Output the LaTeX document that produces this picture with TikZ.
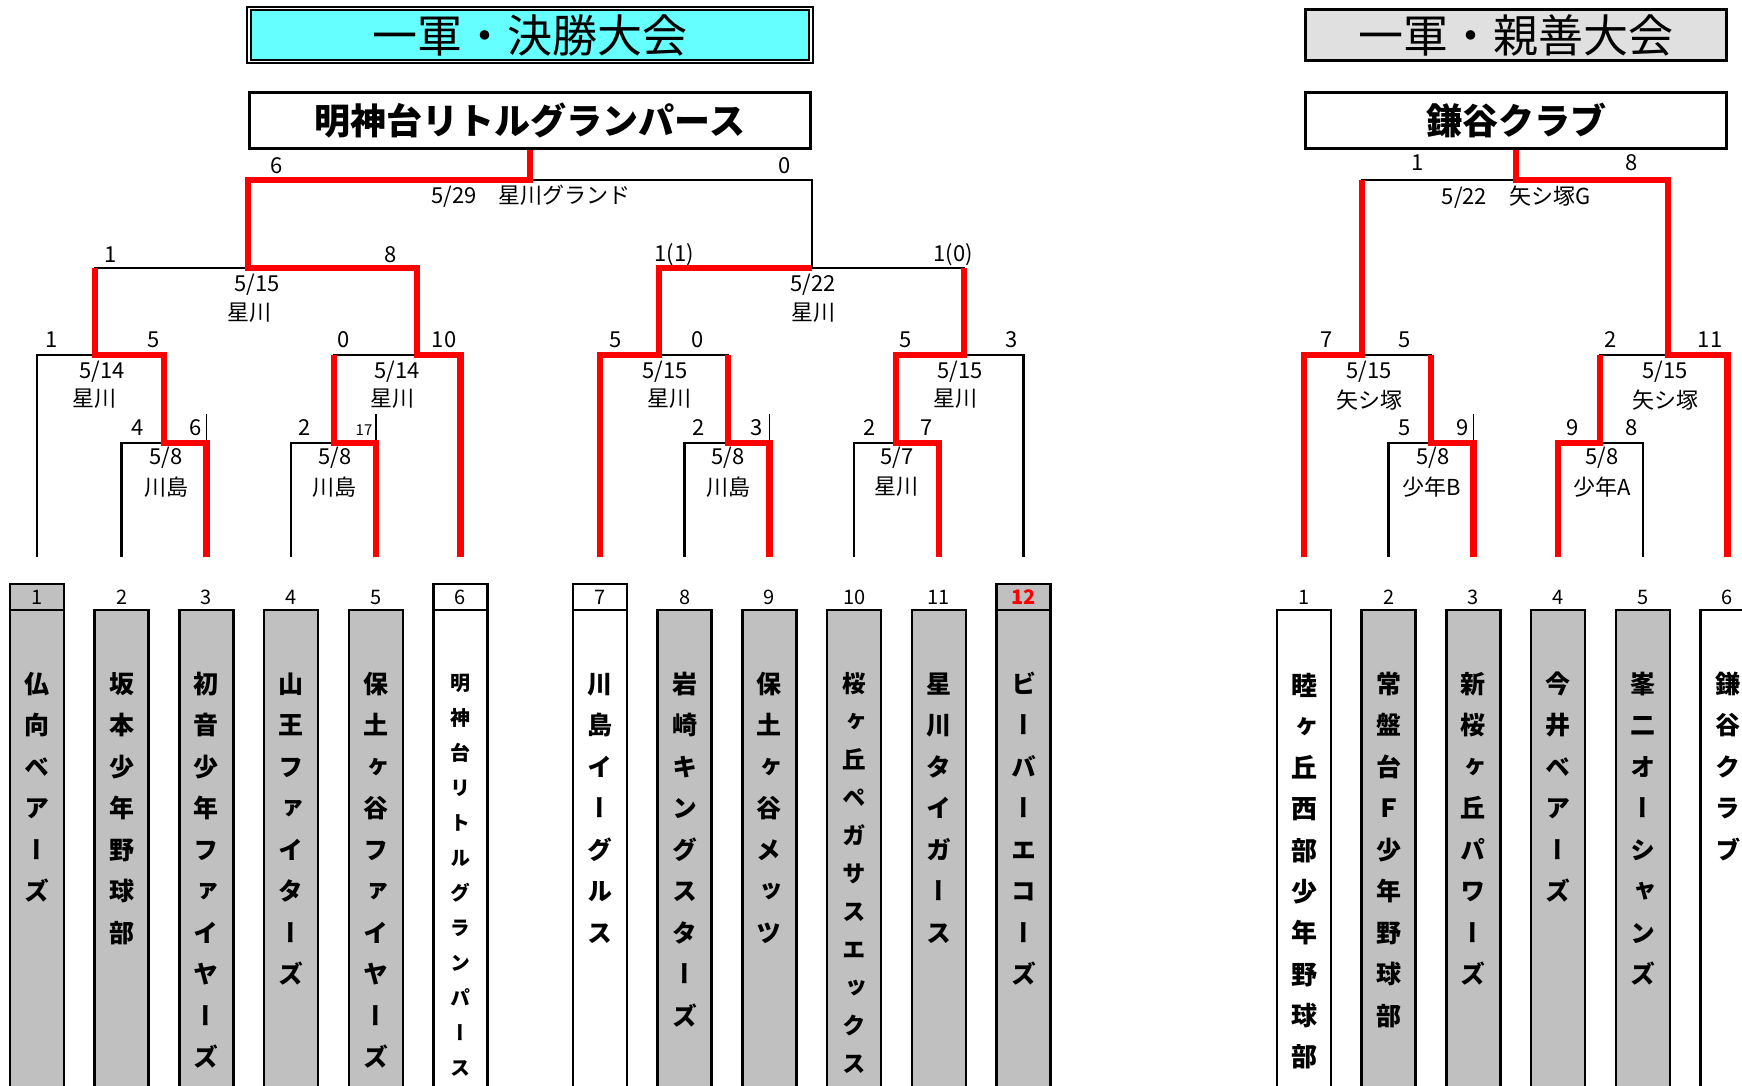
\documentclass[tikz,border=0pt]{standalone}
\usepackage{fontspec}
\setmainfont{Noto Sans CJK JP}
\newfontfamily\tatefont[RawFeature=+vert]{Noto Sans CJK JP}
\usetikzlibrary{positioning}

\definecolor{titlecyan}{HTML}{66FFFF}
\definecolor{titlegray}{HTML}{E0E0E0}
\definecolor{boxgray}{HTML}{C0C0C0}

% stack the characters of a team name one under the other
\makeatletter
\newcommand\tate[1]{\def\tate@sep{}\@tfor\tate@c:=#1\do{\tate@sep\tate@c\def\tate@sep{\\}}}
\makeatother

\tikzset{
    %bracket lines
    brk/.style={draw=black, line width=2.5pt},
    win/.style={draw=red, line width=6.5pt},
    cellmark/.style={draw=black, line width=1.6pt},
    %boxes
    titleA/.style={
      rectangle,
      draw=black, line width=2pt, double=white, double distance=1.5pt,
      fill=titlecyan,
      minimum width=562pt, minimum height=53pt, inner sep=0pt,
      font=\fontsize{45}{45}\selectfont},
    titleB/.style={
      rectangle,
      draw=black, line width=3.5pt,
      fill=titlegray,
      minimum width=421pt, minimum height=51pt, inner sep=0pt,
      font=\fontsize{45}{45}\selectfont},
    champ/.style={
      rectangle,
      draw=black, line width=3pt, fill=white,
      minimum width=561pt, minimum height=56pt, inner sep=0pt,
      font=\bfseries\fontsize{36}{36}\selectfont},
    team/.style={
      rectangle,
      draw=black, line width=2.5pt,
      minimum width=54pt, minimum height=520pt,
      anchor=north, inner sep=0pt, outer sep=0pt},
    numcell/.style={
      rectangle,
      draw=black, line width=2.5pt,
      minimum width=54pt, minimum height=26pt, inner sep=0pt, outer sep=0pt,
      font=\fontsize{20}{20}\selectfont},
    num/.style={
      rectangle,
      minimum width=54pt, minimum height=26pt, inner sep=0pt, outer sep=0pt,
      font=\fontsize{20}{20}\selectfont},
    tname/.style={
      anchor=base, text width=30pt, align=center, inner sep=0pt,
      font=\tatefont\bfseries\fontsize{25}{41.5}\selectfont},
    score/.style={inner sep=0pt, font=\fontsize{22}{22}\selectfont},
    venue/.style={inner sep=0pt, font=\fontsize{22}{22}\selectfont},
}

\begin{document}
\begin{tikzpicture}[x=1pt, y=-1pt]
    \useasboundingbox (0,0) rectangle (1742,1086);
    \clip (0,0) rectangle (1742,1086);

    % titles and winners
    \node (titleL) [titleA] at (530,35) {一軍・決勝大会};
    \node (titleR) [titleB] at (1516,35) {一軍・親善大会};
    \node (champL) [champ] at (530,120.5) {明神台リトルグランパース};
    \node (champR) [champ, minimum width=421pt] at (1516,120.5) {鎌谷クラブ};

    % team boxes, 決勝大会
    \node (t1) [team, fill=boxgray] at (37,610) {};
    \node (t2) [team, fill=boxgray] [right=30.7pt of t1] {};
    \node (t3) [team, fill=boxgray] [right=30.7pt of t2] {};
    \node (t4) [team, fill=boxgray] [right=30.7pt of t3] {};
    \node (t5) [team, fill=boxgray] [right=30.7pt of t4] {};
    \node (t6) [team, fill=white] [right=30.7pt of t5] {};
    \node (t7) [team, fill=white] at (600,610) {};
    \node (t8) [team, fill=boxgray] [right=30.7pt of t7] {};
    \node (t9) [team, fill=boxgray] [right=30.7pt of t8] {};
    \node (t10) [team, fill=boxgray] [right=30.7pt of t9] {};
    \node (t11) [team, fill=boxgray] [right=30.7pt of t10] {};
    \node (t12) [team, fill=boxgray] [right=30.7pt of t11] {};

    % team boxes, 親善大会
    \node (s1) [team, fill=white] at (1304,610) {};
    \node (s2) [team, fill=boxgray] [right=30.7pt of s1] {};
    \node (s3) [team, fill=boxgray] [right=30.7pt of s2] {};
    \node (s4) [team, fill=boxgray] [right=30.7pt of s3] {};
    \node (s5) [team, fill=boxgray] [right=30.7pt of s4] {};
    \node (s6) [team, fill=white] [right=30.7pt of s5] {};

    % numbers
    \node (n1) [numcell, fill=boxgray] [above=0pt of t1] {1};
    \node (n2) [num] [above=0pt of t2] {2};
    \node (n3) [num] [above=0pt of t3] {3};
    \node (n4) [num] [above=0pt of t4] {4};
    \node (n5) [num] [above=0pt of t5] {5};
    \node (n6) [numcell, fill=white] [above=0pt of t6] {6};
    \node (n7) [numcell, fill=white] [above=0pt of t7] {7};
    \node (n8) [num] [above=0pt of t8] {8};
    \node (n9) [num] [above=0pt of t9] {9};
    \node (n10) [num] [above=0pt of t10] {10};
    \node (n11) [num] [above=0pt of t11] {11};
    \node (n12) [numcell, fill=boxgray, text=red, font=\bfseries\fontsize{20}{20}\selectfont] [above=0pt of t12] {12};
    \node (p1) [num] [above=0pt of s1] {1};
    \node (p2) [num] [above=0pt of s2] {2};
    \node (p3) [num] [above=0pt of s3] {3};
    \node (p4) [num] [above=0pt of s4] {4};
    \node (p5) [num] [above=0pt of s5] {5};
    \node (p6) [num] [above=0pt of s6] {6};

    % team names
    \node (m1) [tname] at ([yshift=-83pt]t1.north) {\tate{仏向ベアーズ}};
    \node (m2) [tname] at ([yshift=-83pt]t2.north) {\tate{坂本少年野球部}};
    \node (m3) [tname] at ([yshift=-83pt]t3.north) {\tate{初音少年ファイヤーズ}};
    \node (m4) [tname] at ([yshift=-83pt]t4.north) {\tate{山王ファイターズ}};
    \node (m5) [tname] at ([yshift=-83pt]t5.north) {\tate{保土ヶ谷ファイヤーズ}};
    \node (m6) [tname, font=\tatefont\bfseries\fontsize{20}{35}\selectfont]
          at ([yshift=-80pt]t6.north) {\tate{明神台リトルグランパース}};
    \node (m7) [tname] at ([yshift=-83pt]t7.north) {\tate{川島イーグルス}};
    \node (m8) [tname] at ([yshift=-83pt]t8.north) {\tate{岩崎キングスターズ}};
    \node (m9) [tname] at ([yshift=-83pt]t9.north) {\tate{保土ヶ谷メッツ}};
    \node (m10) [tname, font=\tatefont\bfseries\fontsize{23.5}{38}\selectfont]
          at ([yshift=-82pt]t10.north) {\tate{桜ヶ丘ペガサスエックス}};
    \node (m11) [tname] at ([yshift=-83pt]t11.north) {\tate{星川タイガース}};
    \node (m12) [tname] at ([yshift=-83pt]t12.north) {\tate{ビーバーエコーズ}};
    \node (k1) [tname, font=\tatefont\bfseries\fontsize{26}{41.3}\selectfont]
          at ([yshift=-85pt]s1.north) {\tate{睦ヶ丘西部少年野球部}};
    \node (k2) [tname] at ([yshift=-83pt]s2.north) {\tate{常盤台Ｆ少年野球部}};
    \node (k3) [tname] at ([yshift=-83pt]s3.north) {\tate{新桜ヶ丘パワーズ}};
    \node (k4) [tname] at ([yshift=-83pt]s4.north) {\tate{今井ベアーズ}};
    \node (k5) [tname] at ([yshift=-83pt]s5.north) {\tate{峯二オーシャンズ}};
    \node (k6) [tname] at ([yshift=-83pt]s6.north) {\tate{鎌谷クラブ}};

    % line ends above the teams
    \coordinate (a1) at ([yshift=27pt]n1.north);
    \coordinate (a2) at ([yshift=27pt]n2.north);
    \coordinate (a3) at ([yshift=27pt]n3.north);
    \coordinate (a4) at ([yshift=27pt]n4.north);
    \coordinate (a5) at ([yshift=27pt]n5.north);
    \coordinate (a6) at ([yshift=27pt]n6.north);
    \coordinate (a7) at ([yshift=27pt]n7.north);
    \coordinate (a8) at ([yshift=27pt]n8.north);
    \coordinate (a9) at ([yshift=27pt]n9.north);
    \coordinate (a10) at ([yshift=27pt]n10.north);
    \coordinate (a11) at ([yshift=27pt]n11.north);
    \coordinate (a12) at ([yshift=27pt]n12.north);
    \coordinate (b1) at ([yshift=27pt]p1.north);
    \coordinate (b2) at ([yshift=27pt]p2.north);
    \coordinate (b3) at ([yshift=27pt]p3.north);
    \coordinate (b4) at ([yshift=27pt]p4.north);
    \coordinate (b5) at ([yshift=27pt]p5.north);
    \coordinate (b6) at ([yshift=27pt]p6.north);

    % match points
    \coordinate (r1a) at (164,443);
    \coordinate (r1b) at (334,443);
    \coordinate (r1c) at (728,443);
    \coordinate (r1d) at (896,443);
    \coordinate (qfa) at (95,355);
    \coordinate (qfb) at (417,355);
    \coordinate (qfc) at (659,355);
    \coordinate (qfd) at (964,355);
    \coordinate (sfa) at (248,268);
    \coordinate (sfb) at (812,268);
    \coordinate (fin) at (530,180);
    \coordinate (r1e) at (1431,443);
    \coordinate (r1f) at (1600,443);
    \coordinate (qfe) at (1362,355);
    \coordinate (qff) at (1668,355);
    \coordinate (finR) at (1516,180);

    % bracket
    \draw [brk] (a2) |- (r1a) -| (a3);
    \draw [brk] (a4) |- (r1b) -| (a5);
    \draw [brk] (a8) |- (r1c) -| (a9);
    \draw [brk] (a10) |- (r1d) -| (a11);
    \draw [brk] (a1) |- (qfa) -| (r1a);
    \draw [brk] (r1b) |- (qfb) -| (a6);
    \draw [brk] (a7) |- (qfc) -| (r1c);
    \draw [brk] (r1d) |- (qfd) -| (a12);
    \draw [brk] (qfa) |- (sfa) -| (qfb);
    \draw [brk] (qfc) |- (sfb) -| (qfd);
    \draw [brk] (sfa) |- (fin) -| (sfb);
    \draw [brk] (b2) |- (r1e) -| (b3);
    \draw [brk] (b4) |- (r1f) -| (b5);
    \draw [brk] (b1) |- (qfe) -| (r1e);
    \draw [brk] (r1f) |- (qff) -| (b6);
    \draw [brk] (qfe) |- (finR) -| (qff);

    \draw [cellmark] (r1a -| a3) -- ++(0,-29);
    \draw [cellmark] (r1b -| a5) -- ++(0,-29);
    \draw [cellmark] (r1c -| a9) -- ++(0,-29);
    \draw [cellmark] (r1e -| b3) -- ++(0,-29);

    % winners
    \draw [win] (a3) |- (r1a) |- (qfa) -- (qfa |- sfa);
    \draw [win] (a5) |- (r1b) -- (r1b |- qfb);
    \draw [win] (a6) |- (qfb) |- (sfa) |- (fin) -- (fin |- champL.south);
    \draw [win] (a9) |- (r1c) -- (r1c |- qfc);
    \draw [win] (a7) |- (qfc) |- (sfb);
    \draw [win] (a11) |- (r1d) |- (qfd) -- (qfd |- sfb);
    \draw [win] (b3) |- (r1e) -- (r1e |- qfe);
    \draw [win] (b1) |- (qfe) -- (qfe |- finR);
    \draw [win] (b4) |- (r1f) -- (r1f |- qff);
    \draw [win] (b6) |- (qff) |- (finR) -- (finR |- champR.south);

    % scores, dates, grounds
    \node (fin1) [score] at (277,166) {6};
    \node (fin2) [score] at (785,166) {0};
    \node (find) [venue] at (531,196) {5/29　星川グランド};
    \node (sfa1) [score] at (111,255) {1};
    \node (sfa2) [score] at (391,255) {8};
    \node (sfad) [venue] at (257,285) {5/15};
    \node (sfav) [venue] at (249,313) {星川};
    \node (sfb1) [score] at (674,255) {1(1)};
    \node (sfb2) [score] at (953,255) {1(0)};
    \node (sfbd) [venue] at (813,285) {5/22};
    \node (sfbv) [venue] at (813,313) {星川};
    \node (qfa1) [score] at (52,340) {1};
    \node (qfa2) [score] at (154,340) {5};
    \node (qfad) [venue] at (102,372) {5/14};
    \node (qfav) [venue] at (94,399) {星川};
    \node (qfb1) [score] at (344,340) {0};
    \node (qfb2) [score] at (444,340) {10};
    \node (qfbd) [venue] at (397,372) {5/14};
    \node (qfbv) [venue] at (392,399) {星川};
    \node (qfc1) [score] at (616,340) {5};
    \node (qfc2) [score] at (698,340) {0};
    \node (qfcd) [venue] at (665,372) {5/15};
    \node (qfcv) [venue] at (669,399) {星川};
    \node (qfd1) [score] at (906,340) {5};
    \node (qfd2) [score] at (1012,340) {3};
    \node (qfdd) [venue] at (960,372) {5/15};
    \node (qfdv) [venue] at (955,399) {星川};
    \node (r1a1) [score] at (137.5,428) {4};
    \node (r1a2) [score] at (196,428) {6};
    \node (r1ad) [venue] at (166,458) {5/8};
    \node (r1av) [venue] at (166,487) {川島};
    \node (r1b1) [score] at (305,428) {2};
    \node (r1b2) [score, font=\fontsize{15}{15}\selectfont] at (364,430) {17};
    \node (r1bd) [venue] at (335,458) {5/8};
    \node (r1bv) [venue] at (334,487) {川島};
    \node (r1c1) [score] at (699,428) {2};
    \node (r1c2) [score] at (757,428) {3};
    \node (r1cd) [venue] at (728,458) {5/8};
    \node (r1cv) [venue] at (728,487) {川島};
    \node (r1d1) [score] at (870,428) {2};
    \node (r1d2) [score] at (927,428) {7};
    \node (r1dd) [venue] at (897,458) {5/7};
    \node (r1dv) [venue] at (896,487) {星川};

    \node (finR1) [score] at (1418,163) {1};
    \node (finR2) [score] at (1632,163) {8};
    \node (finRd) [venue] at (1516,197) {5/22　矢シ塚G};
    \node (qfe1) [score] at (1327,340) {7};
    \node (qfe2) [score] at (1405,340) {5};
    \node (qfed) [venue] at (1369,372) {5/15};
    \node (qfev) [venue] at (1369,400) {矢シ塚};
    \node (r1e1) [score] at (1405,428) {5};
    \node (r1e2) [score] at (1463,428) {9};
    \node (r1ed) [venue] at (1433,458) {5/8};
    \node (r1ev) [venue] at (1432,487) {少年B};
    \node (qff1) [score] at (1611,340) {2};
    \node (qff2) [score] at (1710,340) {11};
    \node (qffd) [venue] at (1665,372) {5/15};
    \node (qffv) [venue] at (1665,400) {矢シ塚};
    \node (r1f1) [score] at (1573,428) {9};
    \node (r1f2) [score] at (1632,428) {8};
    \node (r1fd) [venue] at (1602,458) {5/8};
    \node (r1fv) [venue] at (1602,487) {少年A};
\end{tikzpicture}
\end{document}
